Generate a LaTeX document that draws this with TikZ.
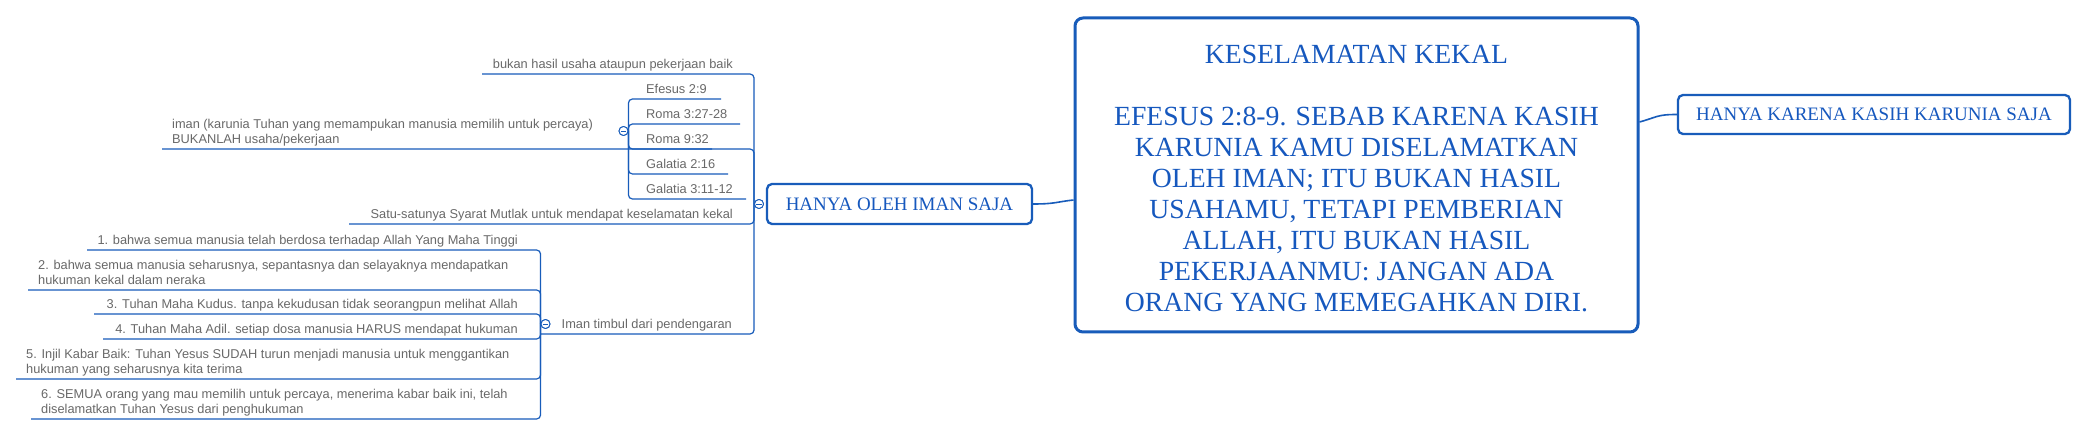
\documentclass[tikz,border=0pt]{standalone}
\usepackage{fontspec}
\setmainfont{Liberation Serif}
\newfontfamily\sidefont{Liberation Sans}
\newfontfamily\boxfont{Liberation Serif}
\definecolor{lineblue}{RGB}{24,92,186}
\definecolor{boxtext}{RGB}{22,88,190}
\definecolor{txtgray}{RGB}{105,105,105}
\begin{document}
\begin{tikzpicture}[x=1pt,y=-1pt,
  conn/.style={draw=lineblue, line width=1.2pt, rounded corners=4pt},
  side/.style={font=\sidefont\fontsize{12.8}{15}\selectfont, text=txtgray, inner sep=0pt},
  topicbox/.style={draw=lineblue, line width=2.3pt, rounded corners=5pt, fill=white, text=boxtext,
     font=\boxfont\fontsize{19}{22}\selectfont, inner sep=0pt},
  centralbox/.style={draw=lineblue, line width=3pt, rounded corners=8pt, fill=white, inner sep=0pt},
  centraltext/.style={text=boxtext, font=\boxfont\fontsize{27.7}{31}\selectfont, align=center, inner sep=0pt},
  circ/.style={circle, draw=lineblue, fill=white, line width=0.9pt, minimum size=9pt, inner sep=0pt,
     path picture={\draw[lineblue, line width=0.9pt] ([xshift=-2.6pt]path picture bounding box.center) -- ([xshift=2.6pt]path picture bounding box.center);}}
]
\useasboundingbox[fill=white] (0,0) rectangle (2087,435);

% ---------- main boxes ----------
\node[centralbox, minimum width=563pt, minimum height=314pt] (central) at (1356.5,175) {};
\node[centraltext] (centraltxt) at (1356.5,179)
 {KESELAMATAN KEKAL\\[31pt]
  EFESUS 2:8-9. SEBAB KARENA KASIH\\
  KARUNIA KAMU DISELAMATKAN\\
  OLEH IMAN; ITU BUKAN HASIL\\
  USAHAMU, TETAPI PEMBERIAN\\
  ALLAH, ITU BUKAN HASIL\\
  PEKERJAANMU: JANGAN ADA\\
  ORANG YANG MEMEGAHKAN DIRI.};
\node[topicbox, minimum width=265pt, minimum height=40pt] (oleh) at (899.5,204) {HANYA OLEH IMAN SAJA};
\node[topicbox, minimum width=392pt, minimum height=39pt] (karena) at (1874,114.5) {HANYA KARENA KASIH KARUNIA SAJA};

\draw[conn, line width=1.6pt] (oleh.east) .. controls +(22,0) and +(-18,2) .. ([yshift=-25pt]central.west);
\draw[conn, line width=1.6pt] ([yshift=53pt]central.east) .. controls +(18,-5) and +(-20,0) .. (karena.west);

% ---------- collapse circles ----------
\node[circ] (c0) at (759,204) {};
\node[circ] (c1) at (623.5,131) {};
\node[circ] (c2) at (545.5,324) {};

% ---------- first level children ----------
\node[side, anchor=south east] (bukan) at (733,73) {\strut bukan hasil usaha ataupun pekerjaan baik};
\node[side, anchor=south west, align=left] (iman) at (172,148)
  {\strut iman (karunia Tuhan yang memampukan manusia memilih untuk percaya)\\\strut BUKANLAH usaha/pekerjaan};
\node[side, anchor=south east] (satu) at (733,223) {\strut Satu-satunya Syarat Mutlak untuk mendapat keselamatan kekal};
\node[side, anchor=south east] (timbul) at (732,333) {\strut Iman timbul dari pendengaran};

\coordinate (ubukan) at (482,74);
\coordinate (uiman) at (162,149);
\coordinate (usatu) at (349,224);
\coordinate (utimbul) at (541,334);

\draw[conn] (c0.west) |- (ubukan);
\draw[conn] (c0.west) |- (uiman);
\draw[conn] (c0.west) |- (usatu);
\draw[conn] (c0.west) |- (utimbul);

% ---------- verses ----------
\node[side, anchor=south west] (ef) at (646,98) {\strut Efesus 2:9};
\node[side, anchor=south west] (ro1) at (646,123) {\strut Roma 3:27-28};
\node[side, anchor=south west] (ro2) at (646,148) {\strut Roma 9:32};
\node[side, anchor=south west] (ga1) at (646,173) {\strut Galatia 2:16};
\node[side, anchor=south west] (ga2) at (646,198) {\strut Galatia 3:11-12};

\coordinate (uef) at (721,99);
\coordinate (uro1) at (740,124);
\coordinate (uro2) at (712,149);
\coordinate (uga1) at (728,174);
\coordinate (uga2) at (746,199);

\draw[conn] (c1.east) |- (uef);
\draw[conn] (c1.east) |- (uro1);
\draw[conn] (c1.east) |- (uro2);
\draw[conn] (c1.east) |- (uga1);
\draw[conn] (c1.east) |- (uga2);

% ---------- numbered points ----------
\node[side, anchor=south east] (p1) at (518,249) {\strut 1. bahwa semua manusia telah berdosa terhadap Allah Yang Maha Tinggi};
\node[side, anchor=south west, align=left] (p2) at (38,289)
  {\strut 2. bahwa semua manusia seharusnya, sepantasnya dan selayaknya mendapatkan\\\strut hukuman kekal dalam neraka};
\node[side, anchor=south east] (p3) at (518,313) {\strut 3. Tuhan Maha Kudus. tanpa kekudusan tidak seorangpun melihat Allah};
\node[side, anchor=south east] (p4) at (518,338) {\strut 4. Tuhan Maha Adil. setiap dosa manusia HARUS mendapat hukuman};
\node[side, anchor=south west, align=left] (p5) at (26,378)
  {\strut 5. Injil Kabar Baik: Tuhan Yesus SUDAH turun menjadi manusia untuk menggantikan\\\strut hukuman yang seharusnya kita terima};
\node[side, anchor=south west, align=left] (p6) at (41,418)
  {\strut 6. SEMUA orang yang mau memilih untuk percaya, menerima kabar baik ini, telah\\\strut diselamatkan Tuhan Yesus dari penghukuman};

\coordinate (up1) at (87,250);
\coordinate (up2) at (28,290);
\coordinate (up3) at (94,314);
\coordinate (up4) at (103,339);
\coordinate (up5) at (16,379);
\coordinate (up6) at (31,419);

\draw[conn] (c2.west) |- (up1);
\draw[conn] (c2.west) |- (up2);
\draw[conn] (c2.west) |- (up3);
\draw[conn] (c2.west) |- (up4);
\draw[conn] (c2.west) |- (up5);
\draw[conn] (c2.west) |- (up6);

% circles on top
\node[circ] at (c0) {};
\node[circ] at (c1) {};
\node[circ] at (c2) {};
\end{tikzpicture}
\end{document}
